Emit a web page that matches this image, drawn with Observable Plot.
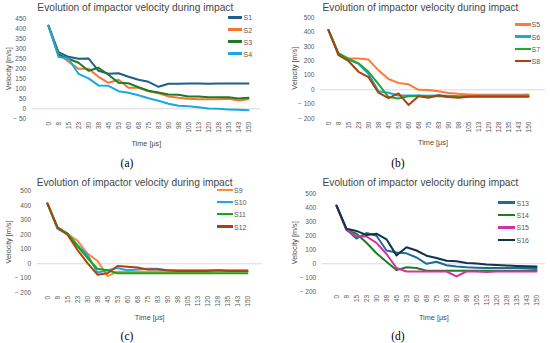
<!DOCTYPE html>
<html><head><meta charset="utf-8">
<script src="https://cdn.jsdelivr.net/npm/d3@7"></script>
<script src="https://cdn.jsdelivr.net/npm/@observablehq/plot@0.6"></script>
<style>
html,body{margin:0;padding:0;background:#fff;}
#fig{position:relative;width:550px;height:343px;overflow:hidden;font-family:"Liberation Sans",Arial,sans-serif;}
.panel{position:absolute;width:275px;height:160px;}
.panel svg{position:absolute;left:0;top:0;overflow:visible;}
.title{position:absolute;transform:translate(-50%,-50%);white-space:nowrap;font-size:10.2px;color:#454545;}
.leg{position:absolute;font-size:7px;color:#595959;white-space:nowrap;}
.leg span.ln{position:absolute;height:2.5px;}
.leg span.tx{position:absolute;transform:translateY(-50%);}
.cap{position:absolute;transform:translate(-50%,-50%);font-family:"Liberation Serif","DejaVu Serif",serif;font-size:11.5px;color:#000;}
g[aria-label="x-axis label"] text, g[aria-label="y-axis label"] text{font-size:7.3px;fill:#4a4a4a;}
</style></head>
<body><div id="fig"></div>
<script>
const times = ["0","8","15","23","30","38","45","53","60","68","75","83","90","98","105","113","120","128","135","143","150"];

// Panel (a)
const s1 = [415,283,260,250,252,190,175,178,160,145,135,110,125,125,126,127,125,127,127,127,127];
const s2 = [415,275,235,200,200,160,130,145,105,105,88,78,62,55,50,48,48,48,50,42,48];
const s3 = [415,270,250,230,190,205,170,130,128,108,90,82,72,70,62,62,58,58,58,52,55];
const s4 = [415,260,250,175,152,117,115,88,80,68,53,40,25,15,13,8,2,0,-3,-5,-7];
// Panel (b)
const s5 = [415,245,218,218,210,135,75,48,38,0,-2,-10,-22,-28,-32,-35,-35,-35,-35,-35,-33];
const s6 = [415,250,210,180,110,-10,-20,-40,-40,-40,-42,-40,-42,-45,-45,-42,-42,-42,-42,-42,-42];
const s7 = [415,255,215,185,125,40,-50,-60,-45,-42,-45,-45,-48,-48,-45,-45,-45,-45,-45,-45,-45];
const s8 = [415,240,200,125,88,-20,-58,-25,-105,-45,-55,-38,-50,-55,-48,-48,-48,-48,-48,-48,-48];
// Panel (c)
const s9  = [415,245,205,160,70,20,-85,-55,-55,-55,-55,-55,-55,-55,-55,-55,-55,-52,-52,-50,-52];
const s10 = [415,240,205,130,60,-60,-45,-30,-45,-40,-35,-35,-45,-45,-45,-45,-45,-45,-45,-45,-45];
const s11 = [415,250,210,120,40,-35,-45,-65,-65,-65,-65,-65,-65,-65,-65,-65,-65,-65,-65,-65,-65];
const s12 = [415,250,200,95,5,-75,-65,-15,-20,-25,-40,-40,-45,-50,-50,-50,-50,-45,-50,-50,-50];
// Panel (d)
const s13 = [415,245,180,220,200,95,80,75,45,0,15,-10,-20,-25,-28,-30,-30,-30,-30,-30,-30];
const s14 = [415,240,215,150,75,15,-45,-25,-30,-50,-50,-50,-50,-50,-50,-50,-50,-50,-50,-48,-45];
const s15 = [415,245,195,195,150,70,-30,-55,-55,-55,-55,-55,-90,-55,-55,-58,-55,-55,-55,-55,-55];
const s16 = [415,250,235,205,215,175,60,118,95,58,42,22,18,5,2,-5,-8,-12,-15,-18,-20];

const namesA = ["S1","S2","S3","S4"], namesB = ["S5","S6","S7","S8"];
const namesC = ["S9","S10","S11","S12"], namesD = ["S13","S14","S15","S16"];
const colorsA = ["#1f5f8b","#f7762f","#1e7b23","#1ca7e0"];
const colorsB = ["#ff7a33","#1ca6dc","#22a82c","#a8400f"];
const colorsC = ["#ff8a3d","#1fa6e0","#14a614","#b0400e"];
const colorsD = ["#1d6e96","#1d7d24","#d2349e","#0e3450"];
const ticksA = [-50,0,50,100,150,200,250,300,350,400,450];
const ticksB = [-200,-100,0,100,200,300,400,500];
const title = "Evolution of impactor velocity during impact";
const captions = ["(a)","(b)","(c)","(d)"];

const panels = [
  {left:0, top:0, names:namesA, colors:colorsA, vals:[s1,s2,s3,s4], dom:[-50,450], ticks:ticksA,
   yTop:18.3, yBot:118.3, fL:31.7, fR:260, x0:37, x1:256, xlabY:141, ylabX:9, tY:7, tX:135.3,
   lx1:228, lx2:242, tx:243.5, ly:[17.3,29.5,41.7,53.6], cap:[127,162.7]},
  {left:275, top:0, names:namesB, colors:colorsB, vals:[s5,s6,s7,s8], dom:[-200,500], ticks:ticksB,
   yTop:17.3, yBot:118.1, fL:45, fR:270, x0:51.7, x1:256, xlabY:140.7, ylabX:20.7, tY:7.3, tX:145.5,
   lx1:240, lx2:256, tx:256.5, ly:[24.3,36.7,49,61.2], cap:[398,162.7]},
  {left:0, top:170, names:namesC, colors:colorsC, vals:[s9,s10,s11,s12], dom:[-200,500], ticks:ticksB,
   yTop:20.7, yBot:122.3, fL:36.7, fR:261.7, x0:41, x1:256, xlabY:145, ylabX:9.3, tY:11.7, tX:134.7,
   lx1:217.3, lx2:233.3, tx:234, ly:[20,32,44,56.7], cap:[127,335.7]},
  {left:275, top:170, names:namesD, colors:colorsD, vals:[s13,s14,s15,s16], dom:[-200,500], ticks:ticksB,
   yTop:23.3, yBot:121.3, fL:46.7, fR:270, x0:51.7, x1:266.7, xlabY:145, ylabX:20.7, tY:11.7, tX:145.5,
   lx1:223.3, lx2:240, tx:241.5, ly:[32.7,45,57.3,70], cap:[398,335.7]}
];

const fig = document.getElementById("fig");
const fmt = d => d < 0 ? "\u2212 " + (-d) : String(d);

panels.forEach((p, k) => {
  const div = document.createElement("div");
  div.className = "panel";
  div.style.left = p.left + "px";
  div.style.top = p.top + "px";
  fig.appendChild(div);

  const data = [];
  p.names.forEach((n, j) => p.vals[j].forEach((v, i) => data.push({t: times[i], v, s: n})));

  const H = 152;
  const step = (p.x1 - p.x0) / (times.length - 1);
  const left = (p.fR - p.fL) - (p.x1 - p.x0);
  const padding = left / (2 * step);
  const align = (p.x0 - p.fL) / left;

  const chart = Plot.plot({
    width: 275, height: H,
    marginLeft: p.fL, marginRight: 275 - p.fR, marginTop: p.yTop, marginBottom: H - p.yBot,
    style: {fontFamily: "'Liberation Sans', Arial, sans-serif", fontSize: "6.5px", color: "#595959", background: "transparent"},
    x: {type: "point", domain: times, padding, align, label: "Time [\u03bcs]", labelAnchor: "center",
        labelArrow: "none", labelOffset: (p.xlabY + 4) - p.yBot, tickRotate: -90, tickSize: 0, tickPadding: 3},
    y: {domain: p.dom, ticks: p.ticks, tickFormat: fmt, label: "Velocity [m/s]", labelAnchor: "center",
        labelArrow: "none", labelOffset: p.fL - (p.ylabX - 4), tickSize: 0, tickPadding: 6},
    color: {domain: p.names, range: p.colors},
    marks: [
      Plot.ruleY([0], {stroke: "#d9d9d9", strokeWidth: 1}),
      Plot.line(data, {x: "t", y: "v", z: "s", stroke: "s", strokeWidth: 2, strokeLinejoin: "round"})
    ]
  });
  div.appendChild(chart);

  const t = document.createElement("div");
  t.className = "title";
  t.textContent = title;
  t.style.left = p.tX + "px";
  t.style.top = p.tY + "px";
  div.appendChild(t);

  p.names.forEach((n, j) => {
    const ln = document.createElement("div");
    ln.className = "leg";
    ln.style.left = "0px"; ln.style.top = "0px";
    const l = document.createElement("span");
    l.className = "ln";
    l.style.left = p.lx1 + "px";
    l.style.width = (p.lx2 - p.lx1) + "px";
    l.style.top = (p.ly[j] - 1.25) + "px";
    l.style.background = p.colors[j];
    const tx = document.createElement("span");
    tx.className = "tx";
    tx.style.left = p.tx + "px";
    tx.style.top = p.ly[j] + "px";
    tx.textContent = n;
    ln.appendChild(l); ln.appendChild(tx);
    div.appendChild(ln);
  });

  const c = document.createElement("div");
  c.className = "cap";
  c.textContent = captions[k];
  c.style.left = p.cap[0] + "px";
  c.style.top = p.cap[1] + "px";
  fig.appendChild(c);
});
</script></body></html>
